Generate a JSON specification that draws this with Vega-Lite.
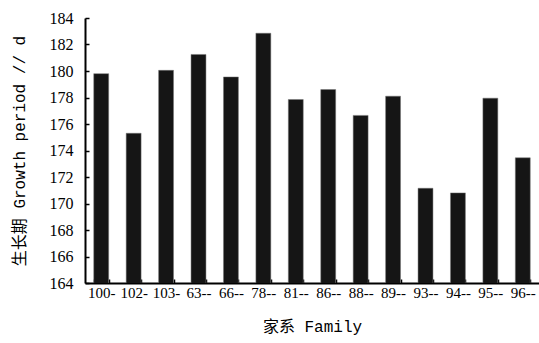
{
  "$schema": "https://vega.github.io/schema/vega-lite/v6.json",
  "width": 454,
  "height": 265,
  "autosize": {"type": "none"},
  "padding": {"left": 85, "top": 18, "right": 0, "bottom": 60},
  "background": "white",
  "config": {"view": {"stroke": null}},
  "data": {"values": [
    {"family": "100-", "days": 179.8},
    {"family": "102-", "days": 175.3},
    {"family": "103-", "days": 180.05},
    {"family": "63--", "days": 181.25},
    {"family": "66--", "days": 179.55},
    {"family": "78--", "days": 182.85},
    {"family": "81--", "days": 177.85},
    {"family": "86--", "days": 178.6},
    {"family": "88--", "days": 176.65},
    {"family": "89--", "days": 178.1},
    {"family": "93--", "days": 171.15},
    {"family": "94--", "days": 170.8},
    {"family": "95--", "days": 177.95},
    {"family": "96--", "days": 173.45}
  ]},
  "mark": {"type": "bar", "color": "#151515", "stroke": "#777777", "strokeWidth": 0.5, "clip": true},
  "encoding": {
    "x": {
      "field": "family", "type": "nominal", "sort": null,
      "scale": {"paddingInner": 0.54, "paddingOuter": 0.27},
      "axis": {
        "title": "家系 Family",
        "titleFont": "'Liberation Mono', 'Noto Sans CJK SC', monospace",
        "titleFontSize": 16, "titleFontWeight": "normal", "titleColor": "black",
        "titlePadding": 18,
        "labelAngle": 0,
        "labelFont": "'Liberation Serif', 'DejaVu Serif', serif", "labelFontSize": 15, "labelColor": "black",
        "labelPadding": 6,
        "tickBand": "extent", "tickSize": -4, "tickColor": "black", "tickWidth": 1.5,
        "domainColor": "black", "domainWidth": 2
      }
    },
    "y": {
      "field": "days", "type": "quantitative",
      "scale": {"domain": [164, 184], "zero": false, "nice": false},
      "axis": {
        "title": "生长期 Growth period // d",
        "titleFont": "'Liberation Mono', 'Noto Sans CJK SC', monospace",
        "titleFontSize": 16, "titleFontWeight": "normal", "titleColor": "black",
        "titlePadding": 22,
        "values": [164, 166, 168, 170, 172, 174, 176, 178, 180, 182, 184],
        "labelFont": "'Liberation Serif', 'DejaVu Serif', serif", "labelFontSize": 16, "labelColor": "black",
        "labelPadding": 16,
        "tickSize": -4, "tickColor": "black", "tickWidth": 1.5,
        "domainColor": "black", "domainWidth": 2,
        "grid": false
      }
    }
  }
}
